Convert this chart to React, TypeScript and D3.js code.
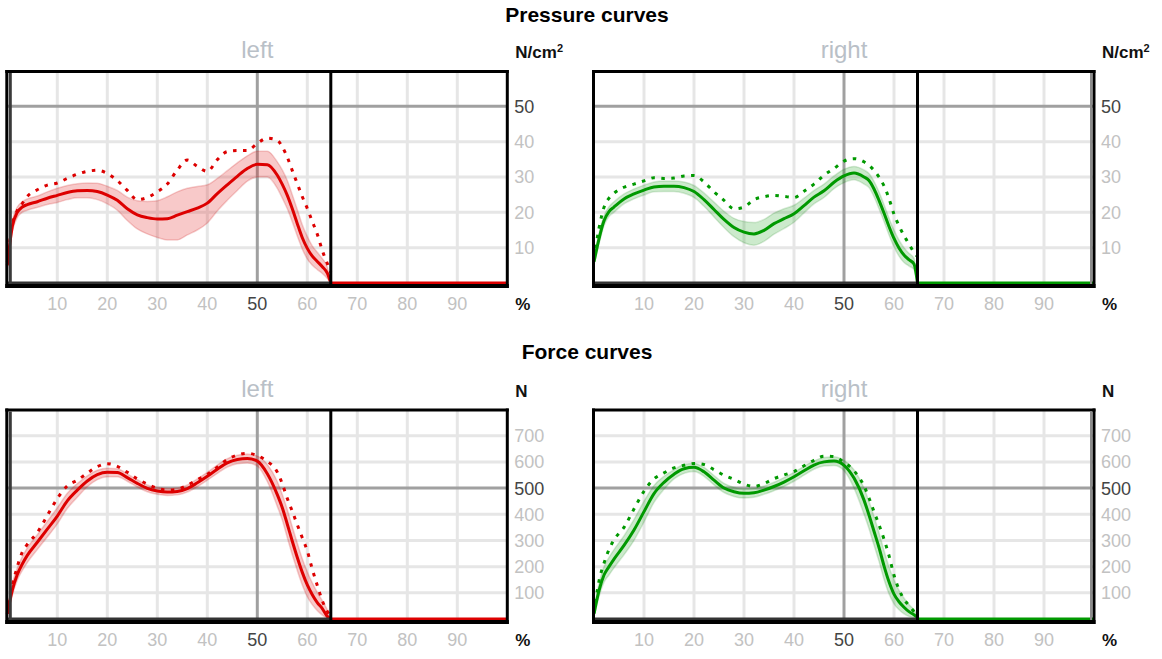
import React from "react";
import * as d3 from "d3";

// ---- data ----
const X = [0, 1, 2, 3, 4, 6, 8, 10, 12, 14, 16, 18, 20, 22, 24, 26, 28, 30, 32, 34, 36, 38, 40, 42, 44, 46, 48, 50, 52, 54, 55, 56, 57, 58, 59, 60, 61, 62, 63, 64, 64.7];
const STANCE_END = 64.7;
const xTicks = [10, 20, 30, 40, 50, 60, 70, 80, 90];
const pressureTicks = [10, 20, 30, 40, 50];
const forceTicks = [100, 200, 300, 400, 500, 600, 700];

const pressureLeftMean = [5, 16, 20, 21.5, 22.2, 23, 24, 24.8, 25.6, 26.1, 26.2, 25.9, 24.9, 23.4, 21, 19.3, 18.5, 18.1, 18.2, 19.2, 20.2, 21.2, 22.6, 25.3, 27.8, 30.2, 32.4, 33.6, 33.5, 30.5, 27.9, 24.8, 21, 16.8, 12.8, 9.8, 7.6, 6.1, 4.6, 2.8, 0];
const pressureLeftHi = [6.5, 17.5, 21.5, 23, 23.8, 24.6, 25.8, 26.8, 27.6, 28.1, 28.3, 28.2, 27.4, 26.2, 24.3, 23.3, 23.1, 23.3, 24.4, 25.8, 26.8, 27.3, 27.8, 29.6, 31.8, 34, 36, 37.3, 37.3, 34.3, 32, 29, 25, 20.8, 16.5, 13.2, 10.5, 8.7, 6.9, 4.5, 0];
const pressureLeftLo = [3.5, 14.5, 18.5, 20, 20.6, 21.4, 22.2, 22.8, 23.6, 24.1, 24.1, 23.6, 22.4, 20.6, 17.7, 15.3, 13.9, 12.9, 12.2, 12.2, 13.6, 15, 17, 20.4, 23.4, 26.2, 28.8, 30, 30, 26.8, 24, 21, 17.3, 13.3, 9.6, 6.8, 5, 3.8, 2.7, 1.3, 0];
const pressureLeftMax = [6, 16.5, 20.5, 22.5, 24.5, 26.4, 27.7, 28.3, 29.6, 30.8, 31.6, 31.9, 31, 29, 26.2, 23.6, 24.2, 25.8, 28, 32, 34.8, 33, 31.6, 34.9, 37.2, 37.5, 37.5, 39.5, 41, 40.4, 38.5, 35.6, 31.8, 28.1, 24.4, 21.1, 17.4, 13.8, 9.2, 5.5, 3];

const pressureRightMean = [6, 12.5, 17.6, 20.2, 21.5, 23.8, 25.2, 26.3, 27.2, 27.4, 27.4, 27, 25.9, 23.6, 20.8, 18, 15.7, 14.4, 13.9, 14.9, 16.8, 18.2, 19.6, 21.9, 24.3, 26.1, 28.5, 30.3, 31.1, 30, 29, 26.6, 23.4, 19.8, 16, 12.6, 9.9, 7.9, 6.6, 5.4, 0];
const pressureRightHi = [7, 14, 19, 21.6, 23, 25.2, 26.6, 27.7, 28.6, 28.9, 28.9, 28.6, 27.6, 25.5, 22.9, 20.3, 18.3, 17.4, 17.1, 18, 19.8, 21, 22, 24, 26.2, 28, 30.3, 32.2, 33, 32, 31, 28.8, 25.8, 22.2, 18.4, 15, 12.2, 10, 8.4, 7, 0];
const pressureRightLo = [5, 11, 16.2, 18.8, 20, 22.4, 23.8, 24.9, 25.8, 25.9, 25.9, 25.4, 24.2, 21.7, 18.7, 15.7, 13.1, 11.4, 10.7, 11.8, 13.8, 15.4, 17.2, 19.8, 22.4, 24.2, 26.7, 28.4, 29.2, 28, 27, 24.4, 21, 17.4, 13.6, 10.2, 7.6, 5.8, 4.8, 3.8, 0];
const pressureRightMax = [7, 15.5, 21.4, 24, 25.4, 27.1, 28, 28.9, 29.8, 29.6, 29.7, 30.3, 30.4, 28.6, 25.8, 23.4, 21, 21.5, 23.6, 24.4, 24.8, 24.5, 24.2, 26, 28, 30.5, 32.4, 34.5, 35.2, 34.3, 33.3, 31.9, 30, 27.5, 23.9, 19.5, 16.2, 13.4, 11, 8.7, 7.5];

const forceLeftMean = [20, 110, 170, 210, 243, 293, 343, 393, 451, 492, 527, 551, 560, 559, 540, 518, 499, 489, 485, 487, 498, 520, 545, 572, 596, 609, 613, 603, 555, 475, 425, 362, 297, 235, 178, 130, 93, 63, 40, 10, 0];
const forceLeftHi = [35, 135, 195, 238, 272, 322, 373, 425, 480, 517, 547, 568, 576, 574, 554, 532, 512, 502, 498, 500, 512, 535, 560, 588, 612, 625, 630, 622, 590, 525, 475, 418, 352, 290, 230, 180, 138, 102, 70, 35, 0];
const forceLeftLo = [5, 90, 148, 185, 215, 265, 313, 363, 422, 465, 505, 532, 543, 543, 526, 504, 486, 476, 472, 474, 485, 505, 530, 556, 580, 593, 596, 584, 525, 430, 378, 310, 245, 185, 130, 85, 55, 32, 15, 3, 0];
const forceLeftMax = [20, 125, 200, 255, 285, 330, 395, 460, 508, 530, 557, 582, 593, 583, 560, 535, 515, 499, 492, 495, 511, 532, 552, 580, 609, 626, 633, 624, 602, 561, 516, 460, 411, 360, 310, 260, 190, 128, 70, 29, 10];

const forceRightMean = [20, 108, 168, 200, 229, 281, 340, 410, 479, 522, 553, 574, 579, 562, 530, 500, 486, 480, 482, 492, 506, 523, 543, 566, 588, 600, 603, 587, 538, 454, 397, 335, 273, 203, 142, 95, 66, 45, 28, 16, 5];
const forceRightHi = [40, 135, 200, 235, 265, 318, 380, 450, 510, 545, 570, 590, 594, 579, 548, 518, 503, 497, 499, 508, 522, 540, 560, 583, 604, 617, 620, 606, 570, 500, 450, 392, 330, 262, 200, 150, 110, 80, 55, 35, 10];
const forceRightLo = [5, 85, 140, 168, 195, 245, 300, 370, 445, 495, 535, 556, 563, 545, 512, 483, 468, 462, 465, 476, 490, 506, 526, 549, 572, 584, 586, 566, 500, 400, 345, 282, 220, 152, 96, 58, 35, 20, 10, 5, 0];
const forceRightMax = [25, 145, 213, 265, 302, 350, 420, 488, 535, 558, 577, 587, 594, 590, 570, 549, 533, 515, 506, 517, 536, 550, 563, 585, 606, 622, 620, 598, 566, 508, 462, 410, 360, 305, 242, 167, 113, 75, 52, 29, 20];

// ---- styling ----
const RED = "#dd0000";
const GREEN = "#009900";
const LIGHT_GRID = "#e6e6e6";
const MAJOR_GRID = "#a0a0a0";
const FONT = "'Liberation Sans', Arial, sans-serif";

type PanelProps = {
  x0: number;
  top: number;
  bottom: number;
  yMax: number;
  yTicks: number[];
  majorY: number;
  mean: number[];
  hi: number[];
  lo: number[];
  max: number[];
  color: string;
  band: string;
  bandEdge: string;
  title: string;
  unit: React.ReactNode;
  side: "left" | "right";
};

function Panel(p: PanelProps) {
  const W = 500;
  const x = d3.scaleLinear().domain([0, 100]).range([p.x0, p.x0 + W]);
  const y = d3.scaleLinear().domain([0, p.yMax]).range([p.bottom, p.top]);
  const idx = X.map((_, i) => i);
  const line = (vals: number[]) =>
    d3
      .line<number>()
      .x((i) => x(X[i]))
      .y((i) => y(vals[i]))
      .curve(d3.curveMonotoneX)(idx) || "";
  const area =
    d3
      .area<number>()
      .x((i) => x(X[i]))
      .y0((i) => y(p.lo[i]))
      .y1((i) => y(p.hi[i]))
      .curve(d3.curveMonotoneX)(idx) || "";
  const right = p.x0 + W;
  const labelX = right + 7;
  return (
    <g>
      {/* light grid */}
      {xTicks.filter((t) => t !== 50).map((t) => (
        <line key={"vx" + t} x1={x(t)} x2={x(t)} y1={p.top} y2={p.bottom} stroke={LIGHT_GRID} strokeWidth={3} />
      ))}
      {p.yTicks.filter((t) => t !== p.majorY).map((t) => (
        <line key={"hy" + t} x1={p.x0} x2={right} y1={y(t)} y2={y(t)} stroke={LIGHT_GRID} strokeWidth={3} />
      ))}
      {/* major grid */}
      <line x1={x(50)} x2={x(50)} y1={p.top} y2={p.bottom} stroke={MAJOR_GRID} strokeWidth={3} />
      <line x1={p.x0} x2={right} y1={y(p.majorY)} y2={y(p.majorY)} stroke={MAJOR_GRID} strokeWidth={3} />
      {/* band */}
      <path d={area} fill={p.band} stroke={p.bandEdge} strokeWidth={1.5} />
      {/* mean */}
      <path d={line(p.mean)} fill="none" stroke={p.color} strokeWidth={3} />
      {/* max dashed */}
      <path d={line(p.max)} fill="none" stroke={p.color} strokeWidth={3} strokeDasharray="3.5,6.5" />
      {/* zero lines */}
      <line x1={x(0)} x2={x(STANCE_END)} y1={y(0)} y2={y(0)} stroke="#333" strokeWidth={3} />
      <line x1={x(STANCE_END)} x2={right} y1={y(0)} y2={y(0)} stroke={p.color} strokeWidth={3} />
      {/* divider */}
      <line x1={x(STANCE_END)} x2={x(STANCE_END)} y1={p.top} y2={p.bottom + 5} stroke="#000" strokeWidth={3} />
      {/* frame */}
      <line x1={p.x0 - 2} x2={right + 1.5} y1={p.top + 0.5} y2={p.top + 0.5} stroke="#000" strokeWidth={3} />
      <line x1={p.x0 - 2} x2={right + 1.5} y1={p.bottom + 3} y2={p.bottom + 3} stroke="#000" strokeWidth={4} />
      <line x1={p.x0 - 0.5} x2={p.x0 - 0.5} y1={p.top - 1} y2={p.bottom + 5} stroke="#000" strokeWidth={3} />
      {p.side === "left" && (
        <line x1={p.x0 + 3} x2={p.x0 + 3} y1={p.top + 2} y2={p.bottom + 1} stroke="#3a3a3a" strokeWidth={3} />
      )}
      {p.side === "right" && (
        <line x1={right - 3} x2={right - 3} y1={p.top + 2} y2={p.bottom + 1} stroke="#8c8c8c" strokeWidth={2} />
      )}
      <line x1={right} x2={right} y1={p.top - 1} y2={p.bottom + 5} stroke="#000" strokeWidth={3} />
      {/* x tick labels */}
      {xTicks.map((t) => (
        <text key={"xt" + t} x={x(t)} y={p.bottom + 27} textAnchor="middle" fontFamily={FONT} fontSize={18} fill={t === 50 ? "#444" : "#c2c2c2"}>
          {t}
        </text>
      ))}
      {/* y tick labels */}
      {p.yTicks.map((t) => (
        <text key={"yt" + t} x={labelX} y={y(t)} dy="0.36em" fontFamily={FONT} fontSize={18} fill={t === p.majorY ? "#444" : "#c2c2c2"}>
          {t}
        </text>
      ))}
      <text x={labelX + 1} y={p.bottom + 27} fontFamily={FONT} fontSize={17} fontWeight="bold" fill="#111">%</text>
      <text x={labelX + 1} y={p.top - 13} fontFamily={FONT} fontSize={17} fontWeight="bold" fill="#111">{p.unit}</text>
      <text x={x(50)} y={p.top - 13} textAnchor="middle" fontFamily={FONT} fontSize={24} fill="#b9c0c7">{p.title}</text>
    </g>
  );
}

export default function App() {
  const redBand = "rgba(225,30,30,0.24)";
  const redEdge = "rgba(200,0,0,0.18)";
  const greenBand = "rgba(0,150,0,0.2)";
  const greenEdge = "rgba(0,120,0,0.15)";
  const pTop = 71;
  const pBottom = 283;
  const fTop = 409.5;
  const fBottom = 619;
  const unitP = (
    <>
      N/cm<tspan fontSize={11} dy={-6}>2</tspan>
    </>
  );
  return (
    <svg width={1162} height={659} style={{ position: "absolute", left: 0, top: 0, background: "#fff" }}>
      <text x={587} y={22} textAnchor="middle" fontFamily={FONT} fontSize={21} fontWeight="bold" fill="#000">Pressure curves</text>
      <text x={587} y={359} textAnchor="middle" fontFamily={FONT} fontSize={21} fontWeight="bold" fill="#000">Force curves</text>
      <Panel x0={7.3} top={pTop} bottom={pBottom} yMax={60} yTicks={pressureTicks} majorY={50}
        mean={pressureLeftMean} hi={pressureLeftHi} lo={pressureLeftLo} max={pressureLeftMax}
        color={RED} band={redBand} bandEdge={redEdge} title="left" unit={unitP} side="left" />
      <Panel x0={594} top={pTop} bottom={pBottom} yMax={60} yTicks={pressureTicks} majorY={50}
        mean={pressureRightMean} hi={pressureRightHi} lo={pressureRightLo} max={pressureRightMax}
        color={GREEN} band={greenBand} bandEdge={greenEdge} title="right" unit={unitP} side="right" />
      <Panel x0={7.3} top={fTop} bottom={fBottom} yMax={800} yTicks={forceTicks} majorY={500}
        mean={forceLeftMean} hi={forceLeftHi} lo={forceLeftLo} max={forceLeftMax}
        color={RED} band={redBand} bandEdge={redEdge} title="left" unit="N" side="left" />
      <Panel x0={594} top={fTop} bottom={fBottom} yMax={800} yTicks={forceTicks} majorY={500}
        mean={forceRightMean} hi={forceRightHi} lo={forceRightLo} max={forceRightMax}
        color={GREEN} band={greenBand} bandEdge={greenEdge} title="right" unit="N" side="right" />
    </svg>
  );
}
